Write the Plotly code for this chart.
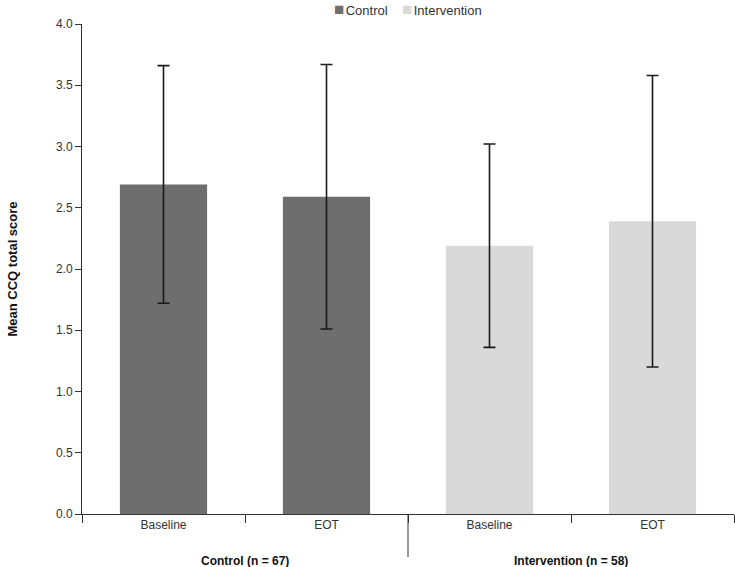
import plotly.graph_objects as go

timepoints = ["Baseline", "EOT"]
groups = ["Control (n = 67)", "Intervention (n = 58)"]
series_names = ["Control", "Intervention"]
control_mean = [2.69, 2.59]
control_err = [0.97, 1.08]
intervention_mean = [2.19, 2.39]
intervention_err = [0.83, 1.19]
y_ticks = [0.0, 0.5, 1.0, 1.5, 2.0, 2.5, 3.0, 3.5, 4.0]
colors = ["#6e6e6e", "#d9d9d9"]

FONT = "Liberation Sans, Arial, Helvetica, sans-serif"

cat_keys = [[f"{g}|{t}" for t in timepoints] for g in groups]
all_keys = cat_keys[0] + cat_keys[1]
tick_text = timepoints * len(groups)

fig = go.Figure()
for keys, means, errs, name, col in zip(cat_keys, [control_mean, intervention_mean],
                                        [control_err, intervention_err], series_names, colors):
    fig.add_trace(go.Bar(
        name=name, x=keys, y=means, showlegend=False,
        marker=dict(color=col, line=dict(width=0)),
        error_y=dict(type="data", array=errs, visible=True,
                     color="#1a1a1a", thickness=1.6, width=6),
    ))

plot_h = 567 - 24 - 53

annotations = []
n_t = len(timepoints)
for i, g in enumerate(groups):
    annotations.append(dict(
        x=i * n_t + (n_t - 1) / 2, xref="x", y=-47 / plot_h, yref="paper",
        text=f"<b>{g}</b>", showarrow=False, xanchor="center", yanchor="middle",
        font=dict(size=12, color="#111111", family=FONT),
    ))

legend_txt = "&nbsp;&nbsp;&nbsp;&nbsp;".join(
    f"<span style='color:{c};font-size:17px'>■</span><span style='font-size:5px'>&nbsp;</span>{n}"
    for n, c in zip(series_names, colors)
)
annotations.append(dict(
    x=0.5, xref="paper", y=1 + 15 / plot_h, yref="paper", text=legend_txt,
    showarrow=False, xanchor="center", yanchor="middle",
    font=dict(size=13, color="#333333", family=FONT),
))

shapes = [dict(
    type="line", xref="x", yref="paper", x0=n_t - 0.5, x1=n_t - 0.5,
    y0=0, y1=-43 / plot_h, line=dict(color="#333333", width=1),
)]

fig.update_layout(
    width=735, height=567,
    margin=dict(l=82, r=1, t=24, b=53, autoexpand=False),
    paper_bgcolor="white", plot_bgcolor="white",
    barmode="overlay", bargap=0.465,
    font=dict(family=FONT, size=12, color="#333333"),
    showlegend=False,
    annotations=annotations, shapes=shapes,
    xaxis=dict(
        type="category", categoryorder="array", categoryarray=all_keys,
        tickvals=all_keys, ticktext=tick_text,
        showline=True, linecolor="#333333", linewidth=1,
        ticks="outside", ticklen=8, tickcolor="#333333", tickson="boundaries",
        showgrid=False, tickfont=dict(size=12, color="#333333"),
    ),
    yaxis=dict(
        range=[0, 4.0], tickvals=y_ticks, ticktext=[f"{v:.1f}" for v in y_ticks],
        showline=True, linecolor="#333333", linewidth=1,
        ticks="outside", ticklen=6, tickcolor="#333333",
        showgrid=False, zeroline=False,
        tickfont=dict(size=12, color="#333333"),
        title=dict(text="<b>Mean CCQ total score</b>", standoff=35,
                   font=dict(size=13, color="#111111")),
    ),
)

fig.write_html("out.html", config={"displayModeBar": False},
               post_script="document.body.style.margin='0';")
